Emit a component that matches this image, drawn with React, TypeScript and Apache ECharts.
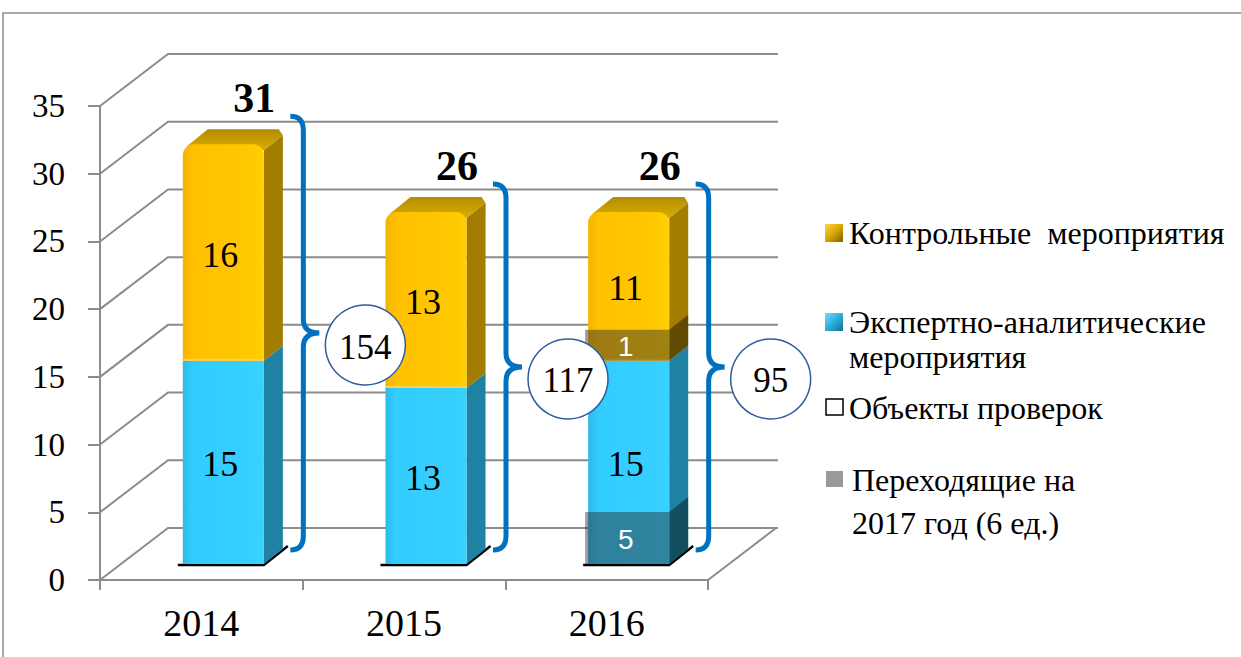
import React, { useEffect, useRef } from 'react';
import * as echarts from 'echarts';

// ---------- data ----------
const categories = ['2014', '2015', '2016'];
const expertValues = [15, 13, 15];
const controlValues = [16, 13, 11];
const totalValues = [31, 26, 26];
const inspectedObjects = [154, 117, 95];
const carryExpert = [0, 0, 5];
const carryControl = [0, 0, 1];
const yTicks = [0, 5, 10, 15, 20, 25, 30, 35];
const seriesNames = [
  'Контрольные  мероприятия',
  'Экспертно-аналитические мероприятия',
  'Объекты проверок',
  'Переходящие на 2017 год (6 ед.)',
];
const legendLabels = [
  'Контрольные  мероприятия',
  'Экспертно-аналитические\nмероприятия',
  'Объекты проверок',
  'Переходящие на\n2017 год (6 ед.)',
];

// ---------- style / geometry ----------
const SERIF = '"Liberation Serif", "Times New Roman", serif';
const SANS = '"Liberation Sans", Arial, sans-serif';
const GRID_COLOR = '#8c8c8c';
const WALL = [68, -52];
const FRONT = [22, -16];
const DEPTH = [19, -15];
const BAR_RATIO = 0.4;
const CARRY_H = [52, 31];
const BRACE_COLOR = '#0070C0';

const yellowFront = () =>
  new echarts.graphic.LinearGradient(0, 0, 1, 0, [
    { offset: 0, color: '#F2B400' },
    { offset: 0.12, color: '#FFC000' },
    { offset: 0.8, color: '#FFC800' },
    { offset: 1, color: '#FFD000' },
  ]);
const blueFront = () =>
  new echarts.graphic.LinearGradient(0, 0, 1, 0, [
    { offset: 0, color: '#2DB9E8' },
    { offset: 0.12, color: '#33CCFF' },
    { offset: 0.8, color: '#36CFFF' },
    { offset: 1, color: '#38D2FF' },
  ]);

function segmentRenderer(kind: 'expert' | 'control') {
  return (params: any, api: any) => {
    const i = api.value(0);
    const b = api.value(1);
    const t = api.value(2);
    const pb = api.coord([i, b]);
    const pt = api.coord([i, t]);
    const bw = api.size([1, 0])[0] * BAR_RATIO;
    const cx = pb[0] + FRONT[0];
    const l = cx - bw / 2;
    const r = cx + bw / 2;
    const yb = pb[1] + FRONT[1];
    const yt = pt[1] + FRONT[1];
    const isTop = kind === 'control';
    const children: any[] = [];
    if (kind === 'expert') {
      children.push({
        type: 'polyline',
        shape: { points: [[l - 5, yb + 1], [r, yb + 1], [r + DEPTH[0] + 5, yb + DEPTH[1] - 3]] },
        style: { stroke: '#000', lineWidth: 2.5, fill: 'none' },
      });
    }
    if (isTop) {
      children.push({
        type: 'polygon',
        shape: { points: [[l + 4, yt + 2], [l + DEPTH[0] + 6, yt + DEPTH[1]], [r + DEPTH[0] - 4, yt + DEPTH[1]], [r + DEPTH[0], yt + DEPTH[1] + 6], [r, yt + 6]] },
        style: {
          fill: new echarts.graphic.LinearGradient(0, 1, 0, 0, [
            { offset: 0, color: '#D9AE00' },
            { offset: 1, color: '#B38C00' },
          ]),
        },
      });
    }
    children.push({
      type: 'polygon',
      shape: {
        points: [
          [r, yt + (isTop ? 6 : 0)],
          [r + DEPTH[0], yt + DEPTH[1] + (isTop ? 6 : 0)],
          [r + DEPTH[0], yb + DEPTH[1]],
          [r, yb],
        ],
      },
      style: { fill: kind === 'control' ? '#A27D00' : '#2082A2' },
    });
    children.push({
      type: 'rect',
      shape: { x: l, y: yt, width: bw, height: yb - yt, r: isTop ? [11, 11, 0, 0] : 0 },
      style: { fill: kind === 'control' ? yellowFront() : blueFront() },
    });
    if (kind === 'control') {
      children.push({
        type: 'line',
        shape: { x1: l, y1: yb - 1, x2: r, y2: yb - 1 },
        style: { stroke: '#FFD24A', lineWidth: 2 },
      });
    }
    children.push({
      type: 'text',
      style: {
        text: String(t - b),
        x: cx - 3,
        y: (yt + yb) / 2 + 2,
        fill: '#000',
        font: `36px ${SERIF}`,
        align: 'center',
        verticalAlign: 'middle',
        textAlign: 'center',
        textVerticalAlign: 'middle',
      },
    });
    return { type: 'group', children };
  };
}

const carryRenderer = (params: any, api: any) => {
  const i = api.value(0);
  const b = api.value(1);
  const v = api.value(2);
  const kind = api.value(3);
  if (!v) return null;
  const pb = api.coord([i, b]);
  const bw = api.size([1, 0])[0] * BAR_RATIO;
  const cx = pb[0] + FRONT[0];
  const l = cx - bw / 2;
  const r = cx + bw / 2;
  const yb = pb[1] + FRONT[1];
  const h = CARRY_H[kind];
  const yt = yb - h;
  return {
    type: 'group',
    children: [
      {
        type: 'polygon',
        shape: { points: [[r, yt], [r + DEPTH[0], yt + DEPTH[1]], [r + DEPTH[0], yb + DEPTH[1]], [r, yb]] },
        style: { fill: 'rgba(0,0,0,0.4)' },
      },
      {
        type: 'rect',
        shape: { x: l - 3, y: yt, width: bw + 3, height: h },
        style: { fill: 'rgba(40,40,40,0.45)' },
      },
      {
        type: 'text',
        style: {
          text: String(v),
          x: cx - 3,
          y: yt + h / 2 + 1,
          fill: '#fff',
          font: `28px ${SANS}`,
          align: 'center',
          verticalAlign: 'middle',
          textAlign: 'center',
          textVerticalAlign: 'middle',
        },
      },
    ],
  };
};

const braceRenderer = (params: any, api: any) => {
  const i = api.value(0);
  const total = api.value(1);
  const objects = api.value(2);
  const pt = api.coord([i, total]);
  const p0 = api.coord([i, 0]);
  const cx = pt[0];
  const yT = pt[1] + FRONT[1] - 28;
  const yB = p0[1] - 30;
  const yM = (yT + yB) / 2;
  const ex = cx + 89;
  const sx = cx + 102;
  const tx = cx + 118;
  const rr = 14;
  const d = `M${ex} ${yT} Q${sx} ${yT} ${sx} ${yT + rr} L${sx} ${yM - rr} Q${sx} ${yM} ${tx} ${yM} Q${sx} ${yM} ${sx} ${yM + rr} L${sx} ${yB - rr} Q${sx} ${yB} ${ex} ${yB}`;
  return {
    type: 'group',
    children: [
      { type: 'path', shape: { pathData: d }, style: { stroke: BRACE_COLOR, lineWidth: 5, fill: 'none' } },
      {
        type: 'circle',
        shape: { cx: cx + 164, cy: yM + 12, r: 40 },
        style: { fill: '#fff', stroke: '#2F5C9E', lineWidth: 1.5 },
      },
      {
        type: 'text',
        style: {
          text: String(objects),
          x: cx + 164,
          y: yM + 14,
          fill: '#000',
          font: `35px ${SERIF}`,
          align: 'center',
          verticalAlign: 'middle',
          textAlign: 'center',
          textVerticalAlign: 'middle',
        },
      },
      {
        type: 'text',
        style: {
          text: String(total),
          x: cx + 53,
          y: pt[1] + FRONT[1] - 46,
          fill: '#000',
          font: `bold 42px ${SERIF}`,
          align: 'center',
          verticalAlign: 'middle',
          textAlign: 'center',
          textVerticalAlign: 'middle',
        },
      },
    ],
  };
};

const wallRenderer = (params: any, api: any) => {
  const cs = params.coordSys;
  const x0 = cs.x;
  const x1 = cs.x + cs.width;
  const children: any[] = [];
  yTicks.forEach((v) => {
    const y = api.coord([0, v])[1];
    children.push({
      type: 'polyline',
      shape: { points: [[x0, y], [x0 + WALL[0], y + WALL[1]], [x1 + WALL[0] + 2, y + WALL[1]]] },
      style: { stroke: GRID_COLOR, lineWidth: 2, fill: 'none' },
    });
  });
  const y0 = api.coord([0, 0])[1];
  children.push({
    type: 'line',
    shape: { x1: x1, y1: y0, x2: x1 + WALL[0], y2: y0 + WALL[1] },
    style: { stroke: GRID_COLOR, lineWidth: 2 },
  });
  return { type: 'group', children };
};

function legendGraphic() {
  const markerX = 825;
  const textX = 849;
  const items = [
    { y: 233, lh: 35, fill: new echarts.graphic.LinearGradient(0, 0, 1, 1, [{ offset: 0, color: '#FFD84A' }, { offset: 0.5, color: '#D9A600' }, { offset: 1, color: '#7F6000' }]), stroke: 'none' },
    { y: 322, lh: 35, fill: new echarts.graphic.LinearGradient(0, 0, 1, 1, [{ offset: 0, color: '#6FE0FF' }, { offset: 0.5, color: '#2AAFDB' }, { offset: 1, color: '#1A6E8C' }]), stroke: 'none' },
    { y: 408, lh: 35, fill: '#fff', stroke: '#000' },
    { y: 480, lh: 43, fill: '#999', stroke: 'none' },
  ];
  const els: any[] = [];
  items.forEach((it, k) => {
    els.push({
      type: 'rect',
      shape: { x: markerX + (k >= 2 ? 1 : 0), y: it.y - 9, width: k >= 2 ? 17 : 18, height: k >= 2 ? 16 : 18 },
      style: { fill: it.fill, stroke: it.stroke, lineWidth: 1.5 },
    });
    els.push({
      type: 'text',
      x: textX + (k === 3 ? 3 : 0),
      y: it.y - it.lh / 2,
      style: {
        text: legendLabels[k],
        font: `32px ${SERIF}`,
        fill: '#000',
        lineHeight: it.lh,
        align: 'left',
        verticalAlign: 'top',
      },
    });
  });
  return els;
}

export default function App() {
  const ref = useRef<HTMLDivElement>(null);
  useEffect(() => {
    if (!ref.current) return;
    const chart = echarts.init(ref.current, undefined, { renderer: 'svg' });
    chart.setOption({
      animation: false,
      backgroundColor: '#fff',
      textStyle: { fontFamily: 'Liberation Serif' },
      grid: { left: 100, right: 533, top: 106, bottom: 77, containLabel: false },
      xAxis: {
        type: 'category',
        data: categories,
        boundaryGap: true,
        axisLine: { show: true, lineStyle: { color: GRID_COLOR, width: 2 } },
        axisTick: { show: true, length: 10, alignWithLabel: false, lineStyle: { color: GRID_COLOR, width: 2 } },
        axisLabel: { fontSize: 38, fontFamily: 'Liberation Serif', color: '#000', margin: 24 },
        splitLine: { show: false },
      },
      yAxis: {
        type: 'value',
        min: 0,
        max: 35,
        interval: 5,
        axisLine: { show: true, lineStyle: { color: GRID_COLOR, width: 2 } },
        axisTick: { show: true, length: 12, lineStyle: { color: GRID_COLOR, width: 2 } },
        axisLabel: { fontSize: 33, fontFamily: 'Liberation Serif', color: '#000', margin: 35 },
        splitLine: { show: false },
      },
      graphic: [
        {
          type: 'rect',
          shape: { x: 3, y: 13, width: 1300, height: 700 },
          style: { fill: 'none', stroke: GRID_COLOR, lineWidth: 1.5 },
          z: -10,
        },
        ...legendGraphic(),
      ],
      series: [
        {
          type: 'custom',
          name: 'walls',
          renderItem: wallRenderer,
          data: [[0, 0]],
          encode: { x: 0, y: 1 },
          z: 1,
          silent: true,
        },
        {
          type: 'custom',
          name: seriesNames[1],
          renderItem: segmentRenderer('expert'),
          data: categories.map((c, i) => [i, 0, expertValues[i]]),
          encode: { x: 0, y: [1, 2] },
          z: 3,
        },
        {
          type: 'custom',
          name: seriesNames[0],
          renderItem: segmentRenderer('control'),
          data: categories.map((c, i) => [i, expertValues[i], expertValues[i] + controlValues[i]]),
          encode: { x: 0, y: [1, 2] },
          z: 3,
        },
        {
          type: 'custom',
          name: seriesNames[3],
          renderItem: carryRenderer,
          data: [
            ...categories.map((c, i) => [i, 0, carryExpert[i], 0]),
            ...categories.map((c, i) => [i, expertValues[i], carryControl[i], 1]),
          ],
          encode: { x: 0, y: 1 },
          z: 4,
        },
        {
          type: 'custom',
          name: seriesNames[2],
          renderItem: braceRenderer,
          data: categories.map((c, i) => [i, totalValues[i], inspectedObjects[i]]),
          encode: { x: 0, y: 1 },
          z: 5,
        },
      ],
    });
    return () => chart.dispose();
  }, []);
  return (
    <div
      ref={ref}
      style={{ position: 'absolute', left: 0, top: 0, width: 1241, height: 657 }}
    />
  );
}
